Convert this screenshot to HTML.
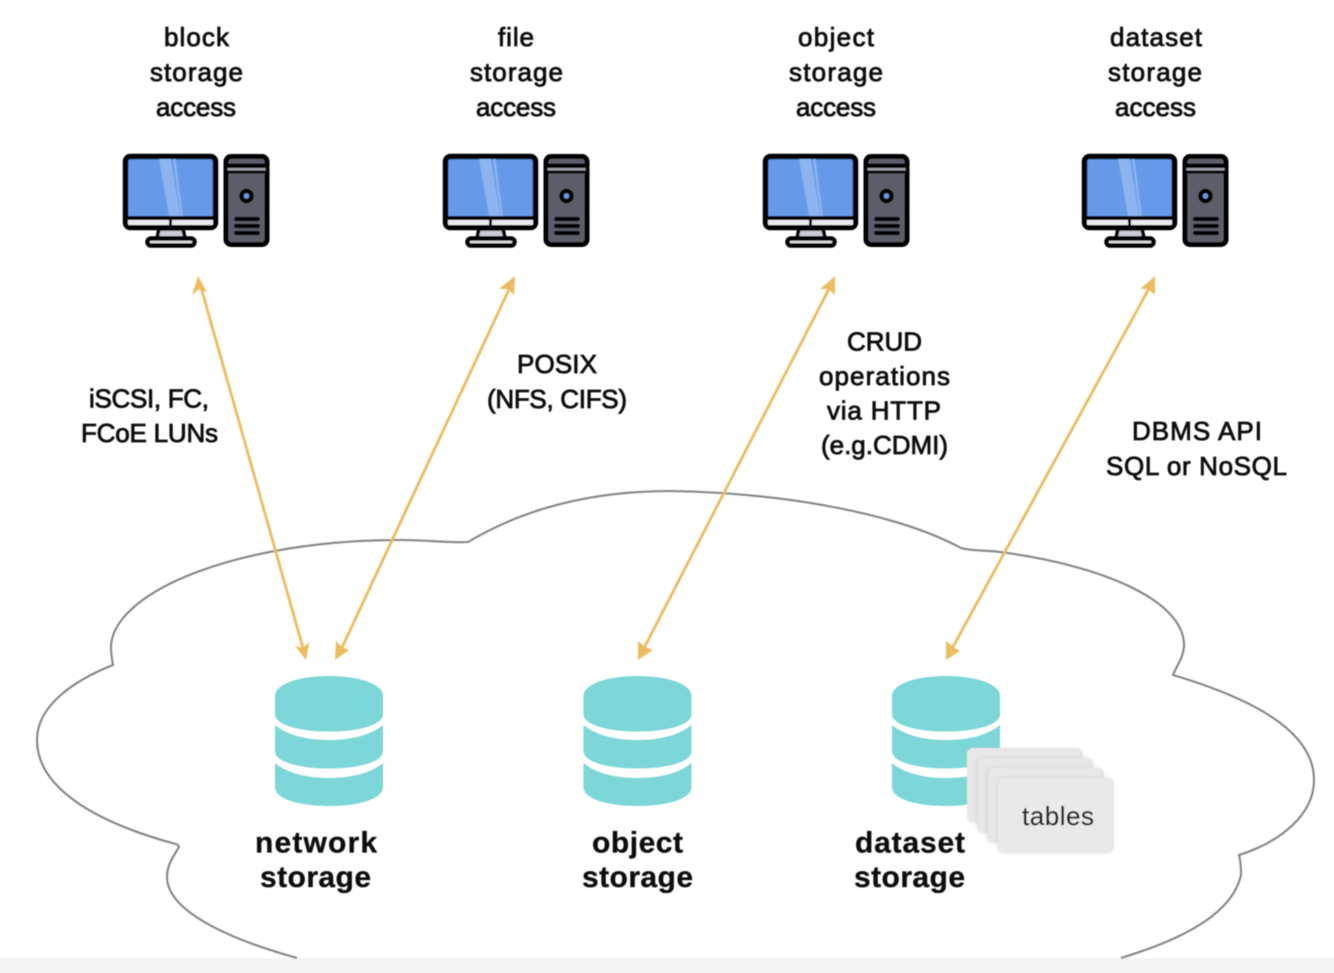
<!DOCTYPE html>
<html><head><meta charset="utf-8"><style>
html,body{margin:0;padding:0;background:#fff;width:1334px;height:973px;overflow:hidden}
svg{display:block}
text{font-family:"Liberation Sans",sans-serif;fill:#111;text-anchor:middle;font-size:26px;stroke:#111;stroke-width:.8px}
.b{font-size:30px;font-weight:bold;stroke-width:.3px;fill:#0c0c0c;stroke:#0c0c0c}
</style></head><body>
<svg width="1334" height="973" viewBox="0 0 1334 973" xmlns="http://www.w3.org/2000/svg">
<defs>
<filter id="s" x="-20%" y="-20%" width="140%" height="140%"><feGaussianBlur stdDeviation="2"/></filter>
<filter id="t" x="-5%" y="-5%" width="110%" height="110%"><feGaussianBlur stdDeviation="0.45"/></filter>
<g id="pc">
<rect x="125.500" y="156.500" width="90" height="71" rx="5" fill="#6699e8" stroke="#050506" stroke-width="5.500"/>
<polygon points="159,159 171,159 180,216 169,216" fill="#8db4ee"/>
<polygon points="173,159 175.500,159 183,216 180.500,216" fill="#8db4ee"/>
<rect x="128" y="218" width="85" height="7" rx="1" fill="#e9ebee"/>
<rect x="125" y="216" width="91" height="4" fill="#050506"/>
<rect x="169" y="218" width="3" height="7" fill="#050506"/>
<path d="M159 229 L183 229 L185 238 L157 238 Z" fill="#c9ccd6" stroke="#050506" stroke-width="3.500"/>
<rect x="147.500" y="238.500" width="47" height="7" rx="3.500" fill="#e4e6ea" stroke="#050506" stroke-width="4.500"/>
<rect x="226" y="156.500" width="41" height="88" rx="5" fill="#5b5f69" stroke="#050506" stroke-width="5"/>
<rect x="226" y="163.500" width="41" height="4.500" fill="#050506"/>
<rect x="227.500" y="168" width="38" height="2.500" fill="#9a9da5"/>
<rect x="226" y="170.500" width="41" height="3" fill="#050506"/>
<circle cx="246.500" cy="196" r="5" fill="#6699e8" stroke="#050506" stroke-width="4.500"/>
<path d="M236 219H258M236 226H258M236 233H258" stroke="#050506" stroke-width="4.200" stroke-linecap="round"/>
</g>
<g id="db" fill="#7dd6d8">
<path d="M275 696 C275 684 299 676 329 676 C359 676 383 684 383 696 V714 C383 725 359 731.500 329 731.500 C299 731.500 275 725 275 714 Z"/>
<path d="M275 725 C287 735 306 740 329 740 C352 740 371 735 383 725 V751 C383 762 359 768.500 329 768.500 C299 768.500 275 762 275 751 Z"/>
<path d="M275 763 C287 773 306 778 329 778 C352 778 371 773 383 763 V787 C383 799 359 806 329 806 C299 806 275 799 275 787 Z"/>
</g>
</defs>
<rect x="0" y="958" width="1334" height="15" fill="#f4f4f4"/>
<g filter="url(#t)">
<path d="M297 958 C225 938 167 910 167 877 C167 865 173 857 179 847 C178 844 176 844 172 843 C100 823 37 790 37 740 C37 705 75 680 113 665 C111 655 111 650 111 645 C116 590 240 540 400 540 C425 540 450 543 468 542 C530 505 600 491 670 491 C790 493 900 515 961 548 C970 551 985 550 1000 552 C1100 565 1186 600 1184 647 C1183 658 1177 665 1173 675 C1250 698 1314 730 1314 780 C1314 815 1280 842 1239 855 C1241 862 1241 870 1241 875 C1232 915 1180 940 1121 958" fill="none" stroke="#858585" stroke-width="2.100"/>
<g fill="#ecbc60" stroke="none">
<path d="M199.500 282 L305 655" stroke="#ecbc60" stroke-width="2.800"/>
<polygon points="198,276 207,292 199,289 192,295"/>
<polygon points="306,660 295,646 303,648 309.500,642"/>
<path d="M512 283 L339 654" stroke="#ecbc60" stroke-width="2.800"/>
<polygon points="515,276 514,295 508,289 499,289"/>
<polygon points="335,660 336,641 342,647 349,650"/>
<path d="M832 283 L641 654" stroke="#ecbc60" stroke-width="2.800"/>
<polygon points="835,276 835,295 828,289 820,289"/>
<polygon points="638,660 638,641 645,647 653,650"/>
<path d="M1152 283 L949 654" stroke="#ecbc60" stroke-width="2.800"/>
<polygon points="1155,276 1155,295 1148,289 1140,289"/>
<polygon points="946,660 946,641 953,647 960,651"/>
</g>
<use href="#pc"/><use href="#pc" x="320"/><use href="#pc" x="640"/><use href="#pc" x="959"/>
<use href="#db"/><use href="#db" x="308.500"/><use href="#db" x="617"/>
<g>
<rect x="970" y="749" width="110" height="72" rx="6" fill="#cfcfcf" filter="url(#s)" opacity=".6"/>
<rect x="967" y="748" width="116" height="75" rx="6" fill="#e7e7e7"/>
<rect x="977" y="758" width="114" height="74" rx="6" fill="#cfcfcf" filter="url(#s)" opacity=".8"/>
<rect x="977.500" y="758" width="116" height="75" rx="6" fill="#e7e7e7"/>
<rect x="987" y="768" width="114" height="74" rx="6" fill="#cfcfcf" filter="url(#s)" opacity=".8"/>
<rect x="988" y="768" width="116" height="75" rx="6" fill="#e7e7e7"/>
<rect x="998" y="778" width="114" height="74" rx="6" fill="#cfcfcf" filter="url(#s)" opacity=".8"/>
<rect x="998" y="778" width="116" height="75" rx="6" fill="#e9e9e9"/>
</g>
<text x="196.500" y="46" textLength="65">block</text>
<text x="196.500" y="81" textLength="93">storage</text>
<text x="196" y="116" textLength="80">access</text>
<text x="516" y="46" textLength="36">file</text>
<text x="516.500" y="81" textLength="93">storage</text>
<text x="516" y="116" textLength="80">access</text>
<text x="836" y="46" textLength="76">object</text>
<text x="836" y="81" textLength="94">storage</text>
<text x="836" y="116" textLength="80">access</text>
<text x="1156" y="46" textLength="92">dataset</text>
<text x="1155" y="81" textLength="94">storage</text>
<text x="1155.500" y="116" textLength="81">access</text>
<text x="557" y="373" textLength="80">POSIX</text>
<text x="557" y="408" textLength="140">(NFS, CIFS)</text>
<text x="149" y="407.500" textLength="120">iSCSI, FC,</text>
<text x="149.500" y="442" textLength="137">FCoE LUNs</text>
<text x="884.500" y="350.500" textLength="75">CRUD</text>
<text x="884.500" y="385" textLength="131">operations</text>
<text x="884" y="419.500" textLength="114">via HTTP</text>
<text x="884.500" y="454" textLength="127">(e.g.CDMI)</text>
<text x="1197" y="440" textLength="130">DBMS API</text>
<text x="1196.500" y="475" textLength="181">SQL or NoSQL</text>
<text class="b" x="316" y="852.500" textLength="122">network</text>
<text class="b" x="315.500" y="887" textLength="111">storage</text>
<text class="b" x="637.500" y="852.500" textLength="91">object</text>
<text class="b" x="637.500" y="887" textLength="111">storage</text>
<text class="b" x="910" y="852.500" textLength="110">dataset</text>
<text class="b" x="909.500" y="887" textLength="111">storage</text>
<text x="1058" y="825" textLength="72" style="stroke:#222;stroke-width:.2px;fill:#222">tables</text>
</g>
</svg>
</body></html>
